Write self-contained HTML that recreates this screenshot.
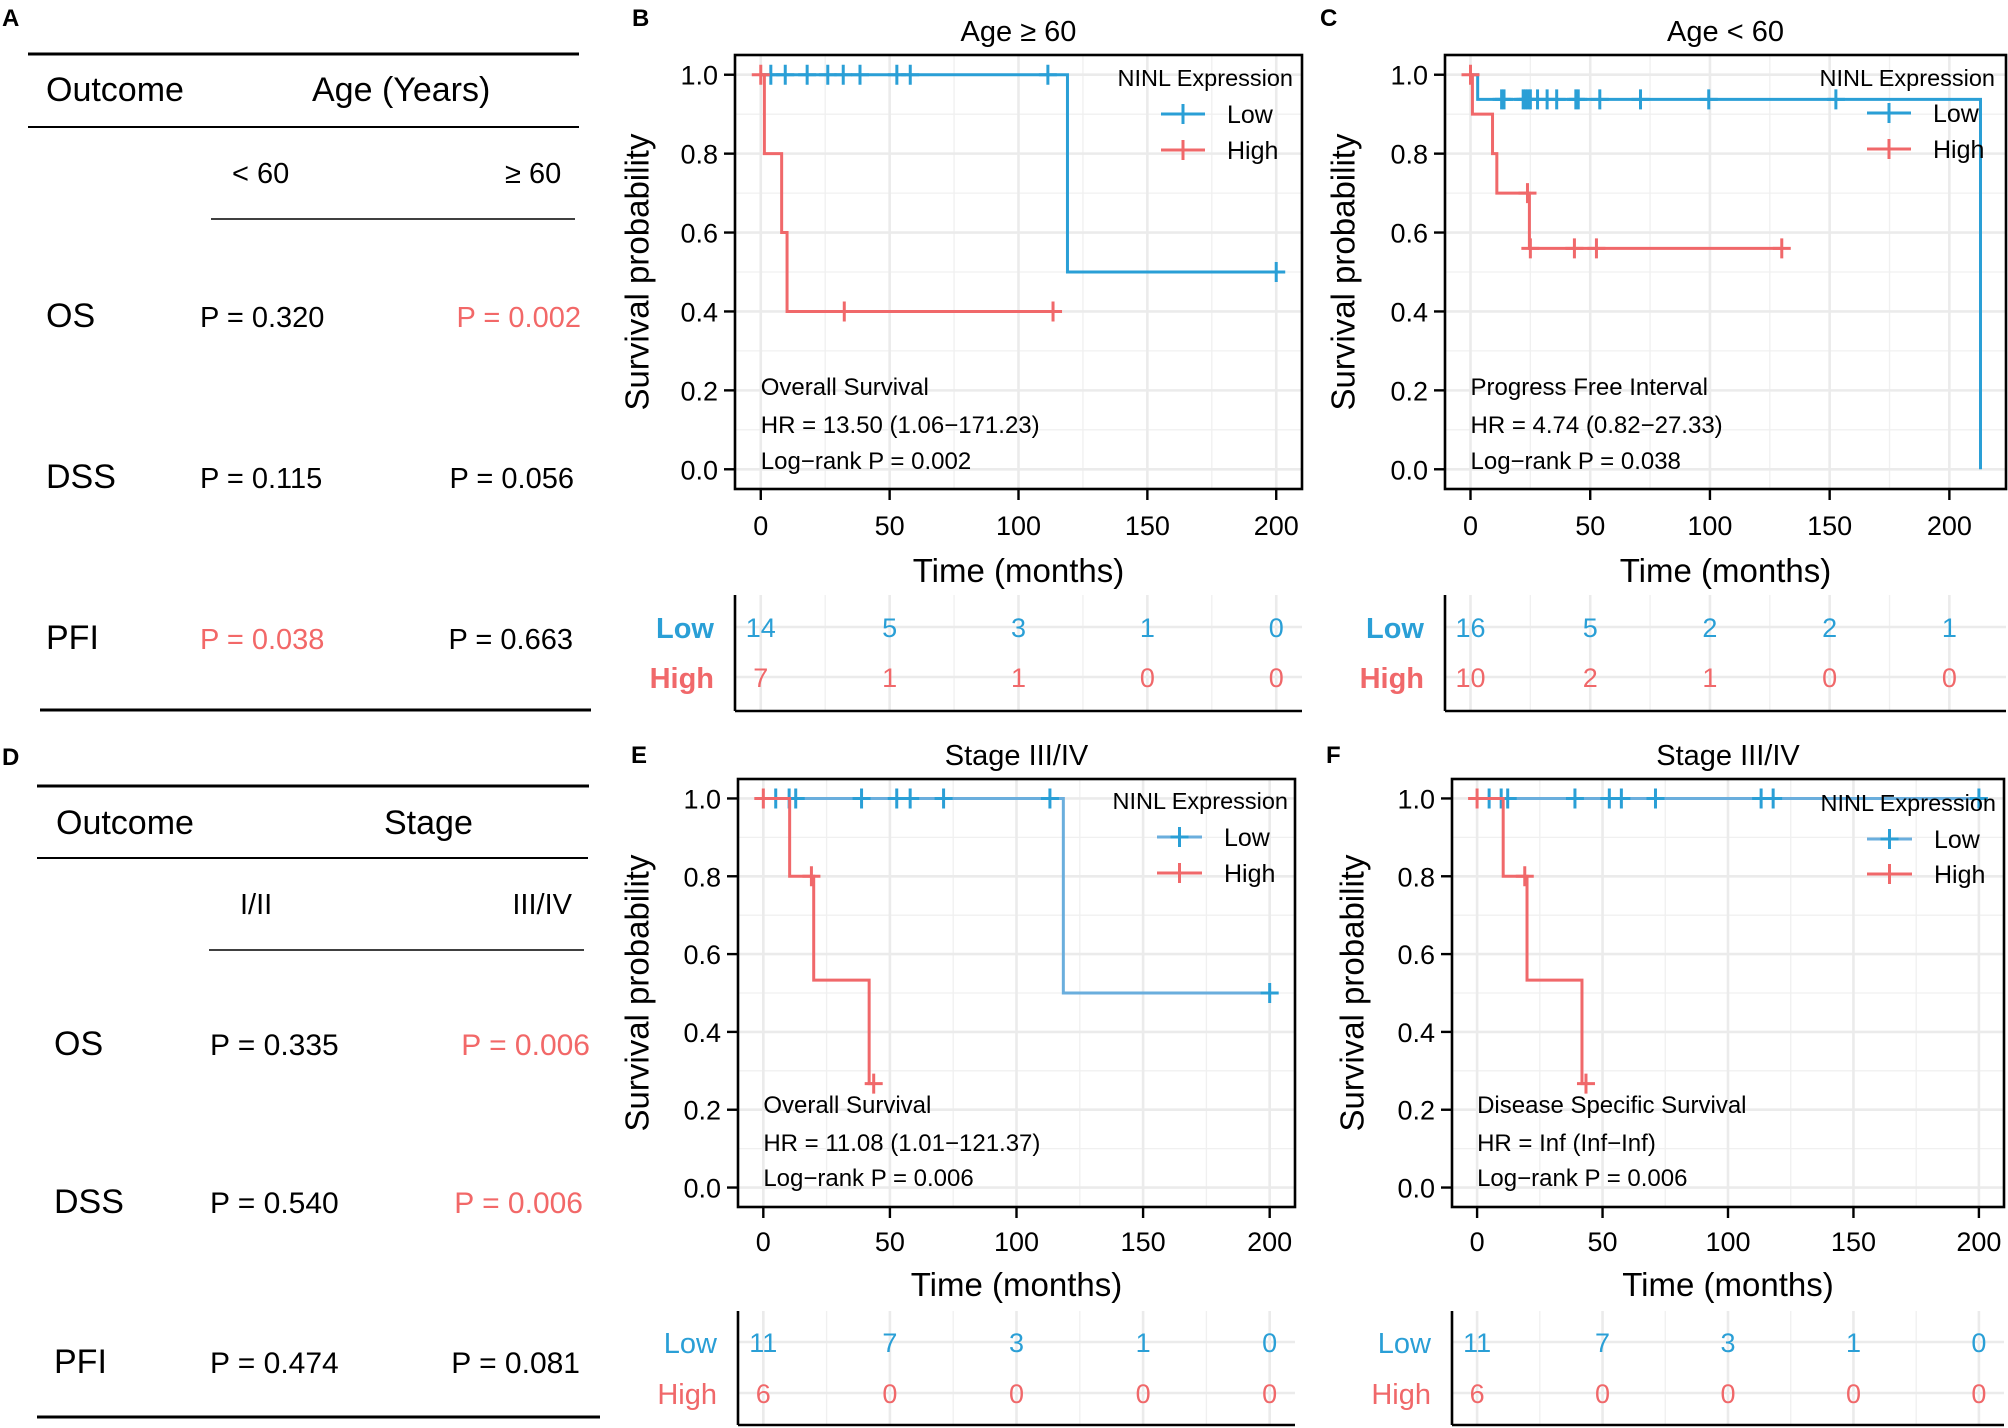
<!DOCTYPE html>
<html><head><meta charset="utf-8">
<style>
html,body{margin:0;padding:0;background:#fff;}
svg{display:block;font-family:"Liberation Sans",Arial,sans-serif;}
</style></head>
<body>
<svg id="fig" width="2008" height="1428" viewBox="0 0 2008 1428" xmlns="http://www.w3.org/2000/svg">
<rect width="2008" height="1428" fill="#fff"/>
<!-- Table A -->
<g>
<text x="2" y="26" font-size="24" font-weight="bold">A</text>
<line x1="28" y1="54" x2="579" y2="54" stroke="#000" stroke-width="3"/>
<text x="46" y="101" font-size="34">Outcome</text>
<text x="312" y="101" font-size="34">Age (Years)</text>
<line x1="28" y1="127" x2="579" y2="127" stroke="#000" stroke-width="2"/>
<text x="232" y="183" font-size="29">&lt;  60</text>
<text x="505" y="183" font-size="29">≥ 60</text>
<line x1="211" y1="219" x2="575" y2="219" stroke="#000" stroke-width="1.5"/>
<text x="46" y="327" font-size="34">OS</text>
<text x="200" y="327" font-size="29">P = 0.320</text>
<text x="581" y="327" font-size="29" text-anchor="end" fill="#F26868">P = 0.002</text>
<text x="46" y="488" font-size="34">DSS</text>
<text x="200" y="488" font-size="29">P = 0.115</text>
<text x="574" y="488" font-size="29" text-anchor="end">P = 0.056</text>
<text x="46" y="649" font-size="34">PFI</text>
<text x="200" y="649" font-size="29" fill="#F26868">P = 0.038</text>
<text x="573" y="649" font-size="29" text-anchor="end">P = 0.663</text>
<line x1="40" y1="710" x2="591" y2="710" stroke="#000" stroke-width="3"/>
</g>
<!-- Table D -->
<g>
<text x="2" y="765" font-size="24" font-weight="bold">D</text>
<line x1="37" y1="786" x2="589" y2="786" stroke="#000" stroke-width="3"/>
<text x="56" y="834" font-size="34">Outcome</text>
<text x="384" y="834" font-size="34">Stage</text>
<line x1="37" y1="858" x2="588" y2="858" stroke="#000" stroke-width="2"/>
<text x="240" y="914" font-size="29">I/II</text>
<text x="572" y="914" font-size="29" text-anchor="end">III/IV</text>
<line x1="209" y1="950" x2="584" y2="950" stroke="#000" stroke-width="1.5"/>
<text x="54" y="1055" font-size="34">OS</text>
<text x="210" y="1055" font-size="30">P = 0.335</text>
<text x="590" y="1055" font-size="30" text-anchor="end" fill="#F26868">P = 0.006</text>
<text x="54" y="1213" font-size="34">DSS</text>
<text x="210" y="1213" font-size="30">P = 0.540</text>
<text x="583" y="1213" font-size="30" text-anchor="end" fill="#F26868">P = 0.006</text>
<text x="54" y="1373" font-size="34">PFI</text>
<text x="210" y="1373" font-size="30">P = 0.474</text>
<text x="580" y="1373" font-size="30" text-anchor="end">P = 0.081</text>
<line x1="37" y1="1417" x2="600" y2="1417" stroke="#000" stroke-width="3"/>
</g>
</svg>
<script>
// ===== Data arrays =====
// Panel B (Age >= 60, OS)
var bLowStepT = [0, 119];
var bLowStepS = [1.0, 0.5];
var bLowEnd = 200;
var bLowCens = [3.9, 9.5, 18, 26, 32, 38.5, 52.8, 58, 111.4, 200];
var bHighStepT = [0, 1.4, 8.1, 10.2];
var bHighStepS = [1.0, 0.8, 0.6, 0.4];
var bHighEnd = 113.4;
var bHighCens = [0, 32.4, 113.4];
var bRiskLow = [14, 5, 3, 1, 0];
var bRiskHigh = [7, 1, 1, 0, 0];
// Panel C (Age < 60, PFI)
var cLowStepT = [0, 3, 213];
var cLowStepS = [1.0, 0.9375, 0];
var cLowEnd = 213;
var cLowCens = [13, 14, 22, 23, 24, 25, 28, 32, 36, 44, 45, 54, 71, 99.5, 152.6];
var cHighStepT = [0, 0.8, 9.2, 11, 24.6];
var cHighStepS = [1.0, 0.9, 0.8, 0.7, 0.56];
var cHighEnd = 130;
var cHighCens = [0, 23.8, 25, 43.4, 52.6, 130];
var cRiskLow = [16, 5, 2, 2, 1];
var cRiskHigh = [10, 2, 1, 0, 0];
// Panel E (Stage III/IV, OS)
var eLowStepT = [0, 118.5];
var eLowStepS = [1.0, 0.5];
var eLowEnd = 200;
var eLowCens = [4.9, 10.2, 12.8, 38.8, 52.7, 58, 71.2, 113.2, 200];
var eHighStepT = [0, 10.4, 19.9, 41.8];
var eHighStepS = [1.0, 0.8, 0.533, 0.267];
var eHighEnd = 43.6;
var eHighCens = [0, 19, 43.6];
var eRiskLow = [11, 7, 3, 1, 0];
var eRiskHigh = [6, 0, 0, 0, 0];
// Panel F (Stage III/IV, DSS)
var fLowStepT = [0];
var fLowStepS = [1.0];
var fLowEnd = 200;
var fLowCens = [4.8, 9.6, 12.2, 39, 52.7, 57.5, 71.1, 113.2, 118, 200];
var fHighStepT = [0, 10.4, 19.9, 41.8];
var fHighStepS = [1.0, 0.8, 0.533, 0.267];
var fHighEnd = 43.4;
var fHighCens = [0, 19, 43.4];
var fRiskLow = [11, 7, 3, 1, 0];
var fRiskHigh = [6, 0, 0, 0, 0];
// Axis ticks
var xTicks = [0, 50, 100, 150, 200];
var xTickLabels = ["0", "50", "100", "150", "200"];
var yTicks = [0, 0.2, 0.4, 0.6, 0.8, 1.0];
var yTickLabels = ["0.0", "0.2", "0.4", "0.6", "0.8", "1.0"];

var NS = "http://www.w3.org/2000/svg";
var svg = document.getElementById("fig");
var BLUE = "#2A9FD6", RED = "#F0686A";

function mk(tag, attrs, parent, name) {
  var el = document.createElementNS(NS, tag);
  for (var k in attrs) el.setAttribute(k, attrs[k]);
  
  
  (parent || svg).appendChild(el);
  return el;
}
function txt(s, attrs, parent, name) {
  var el = mk("text", attrs, parent, name);
  el.textContent = s;
  return el;
}
function survAt(T, S, t) {
  var v = S[0];
  for (var i = 0; i < T.length; i++) if (T[i] <= t) v = S[i];
  return v;
}

function drawPanel(cfg) {
  var g = mk("g", {}, svg, "km-panel-" + cfg.id);
  var L = cfg.L, R = cfg.R, T = cfg.T, B = cfg.B;
  var xmin = cfg.xmin, xmax = cfg.xmax;
  function sx(t) { return L + (t - xmin) / (xmax - xmin) * (R - L); }
  function sy(v) { return B - (v + 0.05) / 1.1 * (B - T); }
  var gg = mk("g", {}, g, "grid-" + cfg.id);
  [0.1, 0.3, 0.5, 0.7, 0.9].forEach(function (v) { mk("line", {x1: L, x2: R, y1: sy(v), y2: sy(v), stroke: "#F0F0F0", "stroke-width": 1.3}, gg, "minor-gridline-y"); });
  [25, 75, 125, 175].forEach(function (t) { mk("line", {x1: sx(t), x2: sx(t), y1: T, y2: B, stroke: "#F0F0F0", "stroke-width": 1.3}, gg, "minor-gridline-x"); });
  yTicks.forEach(function (v) { mk("line", {x1: L, x2: R, y1: sy(v), y2: sy(v), stroke: "#EBEBEB", "stroke-width": 2.6}, gg, "major-gridline-y"); });
  xTicks.forEach(function (t) { mk("line", {x1: sx(t), x2: sx(t), y1: T, y2: B, stroke: "#EBEBEB", "stroke-width": 2.6}, gg, "major-gridline-x"); });
  function curve(stepT, stepS, end, cens, color, lineColor, name) {
    var d = "M" + sx(stepT[0]) + "," + sy(stepS[0]);
    for (var i = 1; i < stepT.length; i++) {
      d += " H" + sx(stepT[i]) + " V" + sy(stepS[i]);
    }
    d += " H" + sx(end);
    mk("path", {d: d, fill: "none", stroke: lineColor, "stroke-width": 3}, g, name + "-curve");
    cens.forEach(function (t) {
      var x = sx(t), y = sy(survAt(stepT, stepS, t));
      mk("path", {d: "M" + (x - 9) + "," + y + " H" + (x + 9) + " M" + x + "," + (y - 10) + " V" + (y + 10), stroke: color, "stroke-width": 3, fill: "none"}, g, name + "-censor-mark");
    });
  }
  curve(cfg.lowT, cfg.lowS, cfg.lowEnd, cfg.lowC, BLUE, cfg.lowLine, "low-group");
  curve(cfg.highT, cfg.highS, cfg.highEnd, cfg.highC, RED, RED, "high-group");
  mk("rect", {x: L, y: T, width: R - L, height: B - T, fill: "none", stroke: "#000", "stroke-width": 2.6}, g, "plot-frame");
  yTicks.forEach(function (v, i) {
    mk("line", {x1: L - 11, x2: L, y1: sy(v), y2: sy(v), stroke: "#000", "stroke-width": 2.4}, g, "y-tick");
    txt(yTickLabels[i], {x: L - 17, y: sy(v) + 10, "font-size": 27, "text-anchor": "end", fill: "#000"}, g, "y-tick-label");
  });
  xTicks.forEach(function (t, i) {
    mk("line", {x1: sx(t), x2: sx(t), y1: B, y2: B + 11, stroke: "#000", "stroke-width": 2.4}, g, "x-tick");
    txt(xTickLabels[i], {x: sx(t), y: B + cfg.tickDy, "font-size": 27, "text-anchor": "middle"}, g, "x-tick-label");
  });
  txt(cfg.title, {x: (L + R) / 2, y: T - cfg.titleDy, "font-size": 29, "text-anchor": "middle"}, g, "plot-title");
  txt(cfg.label, {x: cfg.labelX, y: cfg.labelY, "font-size": 24, "font-weight": "bold"}, g, "panel-label-" + cfg.id);
  txt("Time (months)", {x: (L + R) / 2, y: B + cfg.timeDy, "font-size": 33, "text-anchor": "middle"}, g, "x-axis-title");
  var yc = (T + B) / 2;
  txt("Survival probability", {x: cfg.yTitleX, y: yc, "font-size": 33, "text-anchor": "middle", transform: "rotate(-90 " + cfg.yTitleX + " " + yc + ")", "dominant-baseline": "middle"}, g, "y-axis-title");
  cfg.annot.forEach(function (s, i) {
    txt(s, {x: sx(0), y: cfg.annotY[i], "font-size": 24}, g, "annotation-line");
  });
  var lg = mk("g", {}, g, "legend");
  txt("NINL Expression", {x: cfg.legR, y: cfg.legY, "font-size": 23.5, "text-anchor": "end"}, lg, "legend-title");
  [["Low", BLUE, cfg.lowLine, cfg.legRow1], ["High", RED, RED, cfg.legRow2]].forEach(function (e) {
    var cx = (cfg.keyL + cfg.keyR) / 2;
    mk("line", {x1: cfg.keyL, x2: cfg.keyR, y1: e[3], y2: e[3], stroke: e[2], "stroke-width": 3}, lg, "legend-key-line");
    mk("path", {d: "M" + (cx - 9) + "," + e[3] + " H" + (cx + 9) + " M" + cx + "," + (e[3] - 10) + " V" + (e[3] + 10), stroke: e[1], "stroke-width": 3}, lg, "legend-key-mark");
    txt(e[0], {x: cfg.keyR + 22, y: e[3] + 9, "font-size": 25}, lg, "legend-entry-" + e[0].toLowerCase());
  });
  var rg = mk("g", {}, g, "risk-table");
  var rT = cfg.rT, rB = cfg.rB;
  [25, 75, 125, 175].forEach(function (t) { mk("line", {x1: sx(t), x2: sx(t), y1: rT, y2: rB, stroke: "#F0F0F0", "stroke-width": 1.3}, rg, "risk-minor-gridline"); });
  xTicks.forEach(function (t) { mk("line", {x1: sx(t), x2: sx(t), y1: rT, y2: rB, stroke: "#EBEBEB", "stroke-width": 2.6}, rg, "risk-major-gridline"); });
  [cfg.rLowY, cfg.rHighY].forEach(function (y) { mk("line", {x1: L, x2: R, y1: y, y2: y, stroke: "#EBEBEB", "stroke-width": 2.6}, rg, "risk-row-gridline"); });
  mk("line", {x1: L, x2: L, y1: rT, y2: rB, stroke: "#000", "stroke-width": 2.6}, rg, "risk-y-axis");
  mk("line", {x1: L, x2: R, y1: rB, y2: rB, stroke: "#000", "stroke-width": 2.6}, rg, "risk-x-axis");
  var fw = cfg.boldRisk ? "bold" : "normal";
  txt("Low", {x: L - 21, y: cfg.rLowY + 11, "font-size": 29, "font-weight": fw, fill: BLUE, "text-anchor": "end"}, rg, "risk-label-low");
  txt("High", {x: L - 21, y: cfg.rHighY + 11, "font-size": 29, "font-weight": fw, fill: RED, "text-anchor": "end"}, rg, "risk-label-high");
  xTicks.forEach(function (t, i) {
    txt(String(cfg.riskLow[i]), {x: sx(t), y: cfg.rLowY + 10, "font-size": 27, fill: BLUE, "text-anchor": "middle"}, rg, "risk-count-low");
    txt(String(cfg.riskHigh[i]), {x: sx(t), y: cfg.rHighY + 10, "font-size": 27, fill: RED, "text-anchor": "middle"}, rg, "risk-count-high");
  });
}

var topRow = {T: 55, B: 489, tickDy: 46, timeDy: 93, titleDy: 14, labelY: 26,
  rT: 595, rB: 711, rLowY: 627, rHighY: 677, boldRisk: true};
var botRow = {T: 779, B: 1207, tickDy: 44, timeDy: 89, titleDy: 14, labelY: 763,
  rT: 1311, rB: 1425, rLowY: 1342, rHighY: 1393, boldRisk: false};
function merge(a, b) { var o = {}; for (var k in a) o[k] = a[k]; for (var k2 in b) o[k2] = b[k2]; return o; }

drawPanel(merge(topRow, {id: "b", L: 735, R: 1302, xmin: -10, xmax: 210, title: "Age ≥ 60", label: "B", labelX: 632, yTitleX: 640,
  lowT: bLowStepT, lowS: bLowStepS, lowEnd: bLowEnd, lowC: bLowCens, lowLine: BLUE,
  highT: bHighStepT, highS: bHighStepS, highEnd: bHighEnd, highC: bHighCens,
  annot: ["Overall Survival", "HR = 13.50 (1.06\u2212171.23)", "Log\u2212rank P = 0.002"], annotY: [395, 433, 469],
  legR: 1293, legY: 86, keyL: 1161, keyR: 1205, legRow1: 114, legRow2: 150,
  riskLow: bRiskLow, riskHigh: bRiskHigh}));
drawPanel(merge(topRow, {id: "c", L: 1445, R: 2006, xmin: -10.65, xmax: 223.65, title: "Age < 60", label: "C", labelX: 1320, yTitleX: 1346,
  lowT: cLowStepT, lowS: cLowStepS, lowEnd: cLowEnd, lowC: cLowCens, lowLine: BLUE,
  highT: cHighStepT, highS: cHighStepS, highEnd: cHighEnd, highC: cHighCens,
  annot: ["Progress Free Interval", "HR = 4.74 (0.82\u221227.33)", "Log\u2212rank P = 0.038"], annotY: [395, 433, 469],
  legR: 1995, legY: 86, keyL: 1867, keyR: 1911, legRow1: 113, legRow2: 149,
  riskLow: cRiskLow, riskHigh: cRiskHigh}));
drawPanel(merge(botRow, {id: "e", L: 738, R: 1295, xmin: -10, xmax: 210, title: "Stage III/IV", label: "E", labelX: 631, yTitleX: 640,
  lowT: eLowStepT, lowS: eLowStepS, lowEnd: eLowEnd, lowC: eLowCens, lowLine: "#6AAEDD",
  highT: eHighStepT, highS: eHighStepS, highEnd: eHighEnd, highC: eHighCens,
  annot: ["Overall Survival", "HR = 11.08 (1.01\u2212121.37)", "Log\u2212rank P = 0.006"], annotY: [1113, 1151, 1186],
  legR: 1288, legY: 809, keyL: 1157, keyR: 1202, legRow1: 837, legRow2: 873,
  riskLow: eRiskLow, riskHigh: eRiskHigh}));
drawPanel(merge(botRow, {id: "f", L: 1452, R: 2004, xmin: -10, xmax: 210, title: "Stage III/IV", label: "F", labelX: 1326, yTitleX: 1355,
  lowT: fLowStepT, lowS: fLowStepS, lowEnd: fLowEnd, lowC: fLowCens, lowLine: "#6AAEDD",
  highT: fHighStepT, highS: fHighStepS, highEnd: fHighEnd, highC: fHighCens,
  annot: ["Disease Specific Survival", "HR = Inf (Inf\u2212Inf)", "Log\u2212rank P = 0.006"], annotY: [1113, 1151, 1186],
  legR: 1996, legY: 811, keyL: 1867, keyR: 1912, legRow1: 839, legRow2: 874,
  riskLow: fRiskLow, riskHigh: fRiskHigh}));
</script>
</body></html>
